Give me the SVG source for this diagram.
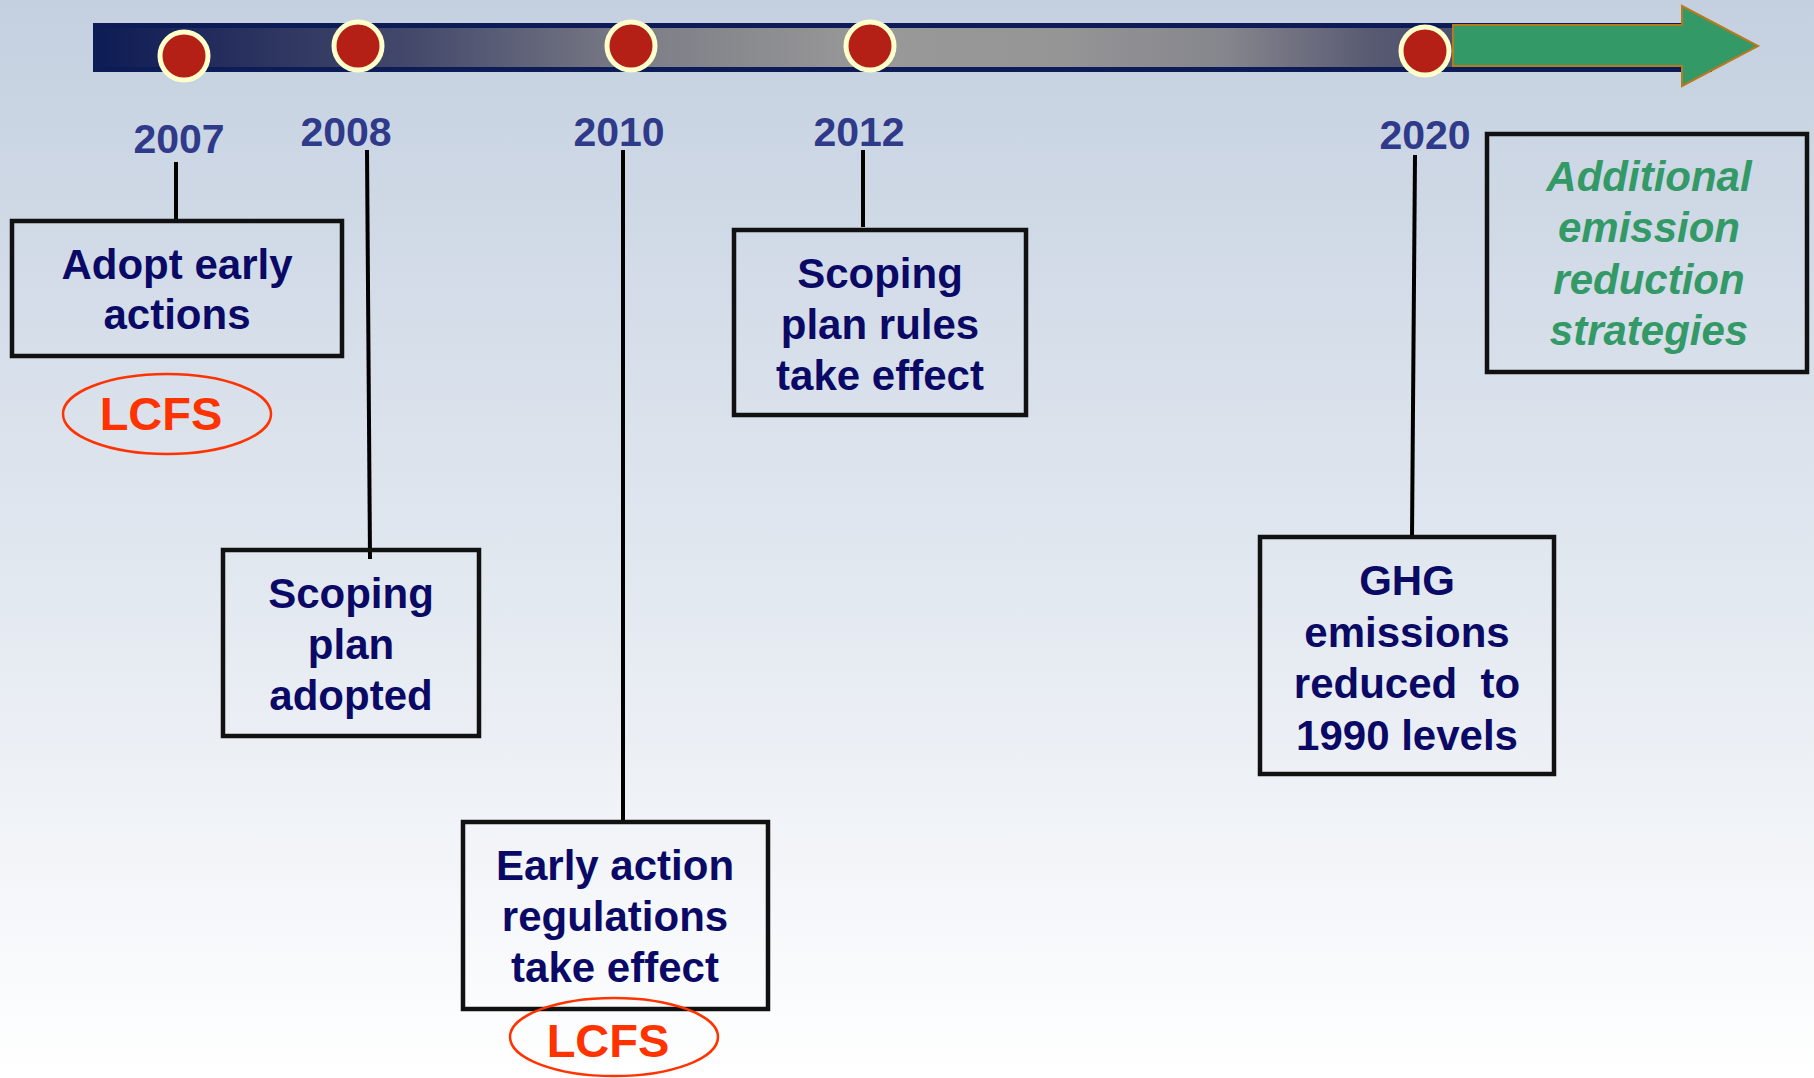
<svg xmlns="http://www.w3.org/2000/svg" width="1814" height="1078" viewBox="0 0 1814 1078">
<defs>
<linearGradient id="bg" x1="0" y1="0" x2="0" y2="1">
<stop offset="0" stop-color="#c4d0e0"/>
<stop offset="0.6" stop-color="#e6ebf2"/>
<stop offset="1" stop-color="#ffffff"/>
</linearGradient>
<linearGradient id="barg" x1="93" y1="0" x2="1712" y2="0" gradientUnits="userSpaceOnUse">
<stop offset="0" stop-color="#0d1c56"/>
<stop offset="0.06" stop-color="#1f295a"/>
<stop offset="0.2" stop-color="#454a6c"/>
<stop offset="0.34" stop-color="#7d7e87"/>
<stop offset="0.48" stop-color="#999999"/>
<stop offset="0.6" stop-color="#959596"/>
<stop offset="0.7" stop-color="#85858d"/>
<stop offset="0.79" stop-color="#585a72"/>
<stop offset="1" stop-color="#2a3060"/>
</linearGradient>
<style>
.box{fill:none;stroke:#111;stroke-width:4.5}
.t{font-family:"Liberation Sans",Arial,sans-serif;font-weight:bold;font-size:42px;fill:#0a0a66;text-anchor:middle}
.yr{font-family:"Liberation Sans",Arial,sans-serif;font-weight:bold;font-size:41px;fill:#2f3a8a;text-anchor:middle}
.g{font-family:"Liberation Sans",Arial,sans-serif;font-weight:bold;font-style:italic;font-size:42px;fill:#339966;text-anchor:middle}
.lc{font-family:"Liberation Sans",Arial,sans-serif;font-weight:bold;font-size:47px;fill:#ff3300;text-anchor:middle}
.ell{fill:none;stroke:#ff3300;stroke-width:2.5}
.dot{fill:#b52016;stroke:#ffffcc;stroke-width:5}
.c{stroke:#000;stroke-width:4;fill:none}
</style>
</defs>
<rect x="0" y="0" width="1814" height="1078" fill="url(#bg)"/>
<g id="timeline">
<rect x="93" y="23" width="1619" height="49" fill="#0d1c56"/>
<rect x="93" y="28" width="1619" height="39" fill="url(#barg)"/>
<polygon points="1453,25 1682,25 1682,6 1758,46 1682,86 1682,66 1453,66" fill="#339966" stroke="#b87a1e" stroke-width="2"/>
</g>
<g id="connectors">
<line class="c" x1="176" y1="162" x2="176" y2="220"/>
<line class="c" x1="367" y1="150" x2="370" y2="559"/>
<line class="c" x1="623" y1="150" x2="623" y2="821"/>
<line class="c" x1="863" y1="150" x2="863" y2="227"/>
<line class="c" x1="1415" y1="155" x2="1412" y2="537"/>
</g>
<g id="markers">
<circle class="dot" cx="184" cy="56" r="24"/>
<circle class="dot" cx="358" cy="46" r="24"/>
<circle class="dot" cx="631" cy="46" r="24"/>
<circle class="dot" cx="870" cy="46" r="24"/>
<circle class="dot" cx="1425" cy="51" r="24"/>
</g>
<g id="years">
<text class="yr" x="179" y="153">2007</text>
<text class="yr" x="346" y="146">2008</text>
<text class="yr" x="619" y="146">2010</text>
<text class="yr" x="859" y="146">2012</text>
<text class="yr" x="1425" y="149">2020</text>
</g>
<g id="node-adopt">
<rect class="box" x="12" y="221" width="330" height="135"/>
<text class="t" x="177" y="279">Adopt early</text>
<text class="t" x="177" y="329">actions</text>
</g>
<g id="node-lcfs1">
<ellipse class="ell" cx="167" cy="414" rx="104" ry="40"/>
<text class="lc" x="161" y="430">LCFS</text>
</g>
<g id="node-scoping-adopted">
<rect class="box" x="223" y="550" width="256" height="186"/>
<text class="t" x="351" y="608">Scoping</text>
<text class="t" x="351" y="659">plan</text>
<text class="t" x="351" y="710">adopted</text>
</g>
<g id="node-early-action">
<rect class="box" x="463" y="822" width="305" height="187"/>
<text class="t" x="615" y="880">Early action</text>
<text class="t" x="615" y="931">regulations</text>
<text class="t" x="615" y="982">take effect</text>
</g>
<g id="node-lcfs2">
<ellipse class="ell" cx="614" cy="1037" rx="104" ry="39"/>
<text class="lc" x="608" y="1057">LCFS</text>
</g>
<g id="node-scoping-rules">
<rect class="box" x="734" y="230" width="292" height="185"/>
<text class="t" x="880" y="288">Scoping</text>
<text class="t" x="880" y="339">plan rules</text>
<text class="t" x="880" y="390">take effect</text>
</g>
<g id="node-ghg">
<rect class="box" x="1260" y="537" width="294" height="237"/>
<text class="t" x="1407" y="595">GHG</text>
<text class="t" x="1407" y="647">emissions</text>
<text class="t" x="1407" y="698" xml:space="preserve">reduced  to</text>
<text class="t" x="1407" y="750">1990 levels</text>
</g>
<g id="node-additional">
<rect class="box" x="1487" y="134" width="320" height="238"/>
<text class="g" x="1649" y="191">Additional</text>
<text class="g" x="1649" y="242">emission</text>
<text class="g" x="1649" y="294">reduction</text>
<text class="g" x="1649" y="345">strategies</text>
</g>
</svg>
